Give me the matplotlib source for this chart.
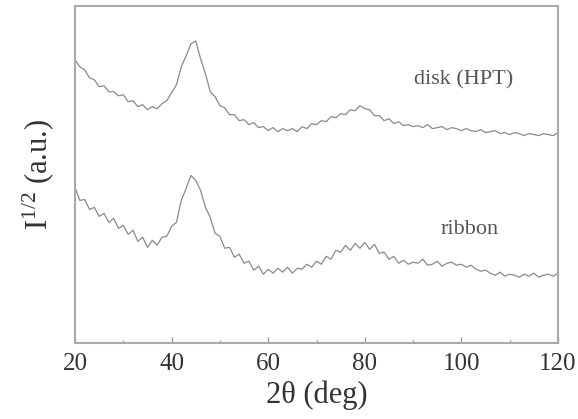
import numpy as np
from matplotlib import pyplot as plt
from matplotlib.ticker import MultipleLocator

plt.rcParams["font.family"] = ["Liberation Serif", "DejaVu Serif"]
plt.rcParams["mathtext.fontset"] = "custom"
plt.rcParams["mathtext.rm"] = "Liberation Serif"
plt.rcParams["mathtext.it"] = "Liberation Serif:italic"

# =========================
# XRD scans, square-root intensity (a.u.), one reading per degree
# =========================

two_theta = list(range(20, 121))

disk_hpt = [
    284, 277, 274, 266, 264, 257, 258, 252, 252, 248,
    249, 242, 243, 237, 239, 234, 237, 235, 240, 243,
    251, 259, 277, 288, 300, 303, 285, 270, 252, 247,
    238, 236, 229, 229, 223, 224, 219, 221, 216, 217,
    213, 216, 212, 215, 213, 215, 212, 217, 215, 220,
    219, 223, 222, 227, 226, 230, 229, 234, 233, 238,
    235, 234, 228, 228, 223, 225, 220, 222, 218, 219,
    217, 218, 216, 219, 215, 216, 217, 214, 216, 215,
    213, 215, 213, 212, 214, 211, 212, 213, 210, 211,
    209, 211, 210, 208, 210, 209, 208, 210, 209, 208,
    211,
]

ribbon = [
    156, 143, 144, 134, 136, 127, 130, 121, 125, 115,
    118, 109, 113, 102, 106, 96, 103, 98, 106, 107,
    117, 121, 143, 155, 168, 163, 153, 136, 126, 110,
    107, 95, 96, 86, 89, 80, 82, 73, 77, 69,
    74, 70, 75, 71, 76, 70, 75, 74, 79, 76,
    82, 79, 87, 84, 93, 91, 98, 93, 100, 95,
    101, 94, 99, 90, 91, 84, 87, 80, 83, 79,
    81, 80, 84, 78, 79, 82, 77, 80, 81, 78,
    79, 76, 78, 74, 72, 73, 70, 68, 71, 67,
    69, 68, 66, 69, 67, 70, 66, 68, 69, 67,
    70,
]

labels = ["disk (HPT)", "ribbon"]
label_pos = [(100.5, 264), (101.6, 114)]

fig = plt.figure(figsize=(5.78, 4.19), dpi=100)
ax = fig.add_axes([0.1298, 0.1814, 0.8356, 0.8043])

for series in [disk_hpt, ribbon]:
    ax.plot(two_theta, series, color="#8a8a8a", linewidth=0.9)

for text, (tx, ty) in zip(labels, label_pos):
    ax.text(tx, ty, text, fontsize=16, color="#555555", ha="center", va="center")

ax.set_xlim(20, 120)
ax.set_ylim(0, 338)
ax.xaxis.set_major_locator(MultipleLocator(20))
ax.xaxis.set_minor_locator(MultipleLocator(10))
ax.set_yticks([])
ax.tick_params(axis="x", which="major", direction="in", length=4, width=1,
               color="#999999", labelsize=18, labelcolor="#333333", pad=7)
ax.tick_params(axis="x", which="minor", direction="in", length=2, width=1,
               color="#999999")

for side in ["left", "right", "top", "bottom"]:
    ax.spines[side].set_color("#aaaaaa")
    ax.spines[side].set_linewidth(1.5)

ax.set_xlabel("2θ (deg)", fontsize=22, color="#333333", labelpad=4)
ax.set_ylabel(r"I$^{1/2}$ (a.u.)", fontsize=22, color="#333333", labelpad=14)

plt.savefig("out.png", dpi=100)
